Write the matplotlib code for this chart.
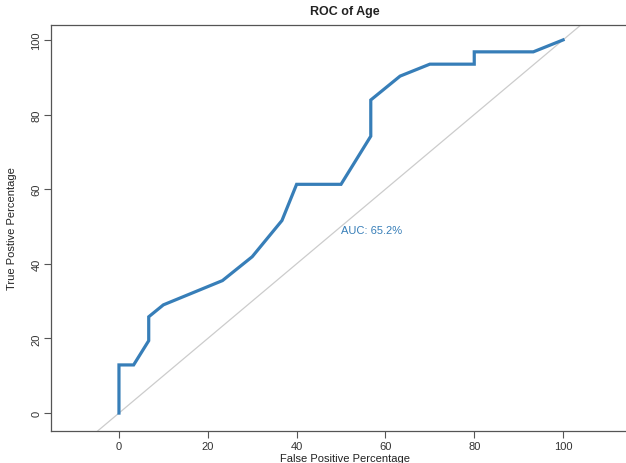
import numpy as np
import matplotlib
matplotlib.use("Agg")
import matplotlib.pyplot as plt

plt.rcParams["font.family"] = ["Liberation Sans", "DejaVu Sans"]

# ROC curve points (false positive %, true positive %)
fpr = [0, 0, 3.3, 6.7, 6.7, 10, 23.3, 30, 36.7, 40, 50, 56.7, 56.7, 63.3, 70, 80, 80, 93.3, 100]
tpr = [0, 12.9, 12.9, 19.4, 25.8, 29.0, 35.5, 41.9, 51.6, 61.3, 61.3, 74.2, 83.9, 90.3, 93.5, 93.5, 96.8, 96.8, 100]
auc_label = "AUC: 65.2%"
ticks = [0, 20, 40, 60, 80, 100]

curve_col = "#377eb8"
axis_col = "#555555"

fig = plt.figure(figsize=(6.26, 4.64), dpi=100)
ax = fig.add_axes([0.0815, 0.069, 0.94, 0.875])

# chance line
ax.plot([-20, 120], [-20, 120], color="#cccccc", lw=0.9, zorder=1)
ax.plot(fpr, tpr, color=curve_col, lw=2.3, solid_joinstyle="miter", zorder=2)
ax.text(50, 50.5, auc_label, color=curve_col, fontsize=8, ha="left", va="top")

ax.set_xlim(-15.3, 117.2)
ax.set_ylim(-4.8, 104)
ax.set_xticks(ticks)
ax.set_yticks(ticks)
ax.tick_params(direction="out", length=5, width=0.8, color=axis_col,
               labelsize=8, labelcolor="#333333", pad=2)
for lab in ax.get_yticklabels():
    lab.set_rotation(90)
    lab.set_va("center")
for sp in ax.spines.values():
    sp.set_color(axis_col)
    sp.set_linewidth(0.9)

ax.set_xlabel("False Positive Percentage", fontsize=8, color="#222222", labelpad=2)
ax.set_ylabel("True Postive Percentage", fontsize=8, color="#222222", labelpad=10)
ax.set_title("ROC of Age", fontsize=9, fontweight="bold", color="#222222", pad=8)

fig.savefig("out.png", dpi=100, facecolor="white")
